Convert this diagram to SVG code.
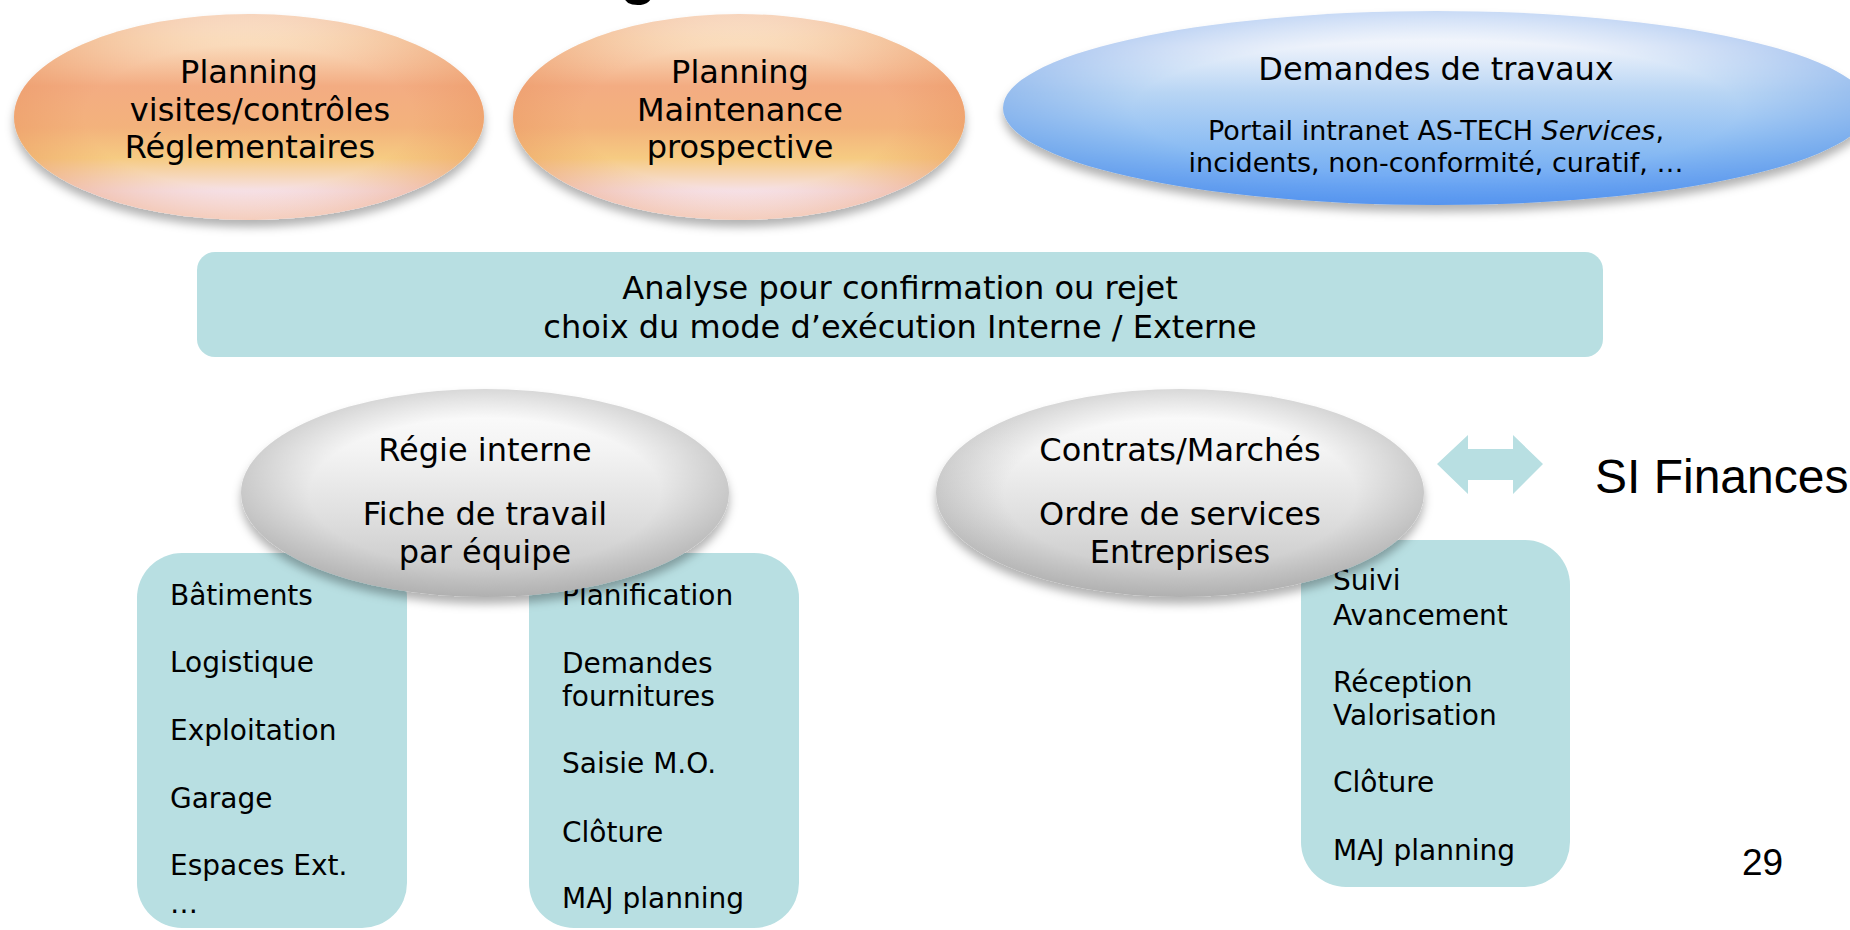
<svg xmlns="http://www.w3.org/2000/svg" width="1850" height="930" viewBox="0 0 1850 930">
<defs>
<style>
.t{font-family:"DejaVu Sans","Verdana",sans-serif;fill:#000}
.big{font-size:32px}
.mid{font-size:27px}
.item{font-size:28px}
.box{fill:#b8dfe2}
.ar{font-family:"Liberation Sans",Arial,sans-serif;fill:#000}
</style>
<linearGradient id="gOrange" x1="0" y1="0" x2="0" y2="1">
<stop offset="0" stop-color="#fffaf2"/>
<stop offset="0.12" stop-color="#fbe2c4"/>
<stop offset="0.35" stop-color="#f3ac82"/>
<stop offset="0.55" stop-color="#f3b27c"/>
<stop offset="0.70" stop-color="#f6cb82"/>
<stop offset="0.86" stop-color="#f6e1e8"/>
<stop offset="1" stop-color="#fbeff2"/>
</linearGradient>
<linearGradient id="gBlue" x1="0" y1="0" x2="0" y2="1">
<stop offset="0" stop-color="#ffffff"/>
<stop offset="0.18" stop-color="#edf2fb"/>
<stop offset="0.42" stop-color="#b8d5f4"/>
<stop offset="0.72" stop-color="#89bbf3"/>
<stop offset="1" stop-color="#5b9bf5"/>
</linearGradient>
<linearGradient id="gGrey" x1="0" y1="0" x2="0" y2="1">
<stop offset="0" stop-color="#ffffff"/>
<stop offset="0.3" stop-color="#f3f3f3"/>
<stop offset="0.6" stop-color="#e0e0e0"/>
<stop offset="0.85" stop-color="#cdcdcd"/>
<stop offset="1" stop-color="#c2c2c2"/>
</linearGradient>
<radialGradient id="gEdgeO" cx="0.5" cy="0.5" r="0.5">
<stop offset="0.7" stop-color="#e8905a" stop-opacity="0"/>
<stop offset="1" stop-color="#e8905a" stop-opacity="0.35"/>
</radialGradient>
<radialGradient id="gEdgeB" cx="0.5" cy="0.5" r="0.5">
<stop offset="0.7" stop-color="#4a86e0" stop-opacity="0"/>
<stop offset="1" stop-color="#4a86e0" stop-opacity="0.3"/>
</radialGradient>
<radialGradient id="gEdgeG" cx="0.5" cy="0.5" r="0.5">
<stop offset="0.72" stop-color="#909090" stop-opacity="0"/>
<stop offset="1" stop-color="#909090" stop-opacity="0.35"/>
</radialGradient>
<filter id="shadow" x="-10%" y="-15%" width="120%" height="140%">
<feDropShadow dx="0" dy="7" stdDeviation="5" flood-color="#000" flood-opacity="0.3"/>
</filter>
</defs>
<rect width="1850" height="930" fill="#ffffff"/>

<text class="ar" x="620" y="-7" font-size="60" font-weight="bold">g</text>

<g id="node-planning-visites">
<ellipse cx="249" cy="117" rx="235" ry="103" fill="url(#gOrange)" filter="url(#shadow)"/>
<ellipse cx="249" cy="117" rx="235" ry="103" fill="url(#gEdgeO)"/>
<text class="t big" text-anchor="middle"><tspan x="249" y="83">Planning</tspan><tspan x="260" y="121">visites/contrôles</tspan><tspan x="250" y="158">Réglementaires</tspan></text>
</g>

<g id="node-planning-maintenance">
<ellipse cx="739" cy="117" rx="226" ry="103" fill="url(#gOrange)" filter="url(#shadow)"/>
<ellipse cx="739" cy="117" rx="226" ry="103" fill="url(#gEdgeO)"/>
<text class="t big" text-anchor="middle"><tspan x="740" y="83">Planning</tspan><tspan x="740" y="121">Maintenance</tspan><tspan x="740" y="158">prospective</tspan></text>
</g>

<g id="node-demandes">
<ellipse cx="1436" cy="108" rx="433" ry="97" fill="url(#gBlue)" filter="url(#shadow)"/>
<ellipse cx="1436" cy="108" rx="433" ry="97" fill="url(#gEdgeB)"/>
<text class="t big" x="1436" y="80" text-anchor="middle">Demandes de travaux</text>
<text class="t mid" text-anchor="middle"><tspan x="1436" y="140">Portail intranet AS-TECH <tspan font-style="italic">Services</tspan>,</tspan><tspan x="1436" y="172">incidents, non-conformité, curatif, …</tspan></text>
</g>

<g id="node-analyse">
<rect class="box" x="197" y="252" width="1406" height="105" rx="18"/>
<text class="t big" text-anchor="middle"><tspan x="900" y="299">Analyse pour confirmation ou rejet</tspan><tspan x="900" y="338">choix du mode d’exécution Interne / Externe</tspan></text>
</g>

<g id="node-equipes">
<rect class="box" x="137" y="553" width="270" height="375" rx="45"/>
<text class="t item"><tspan x="170" y="605">Bâtiments</tspan><tspan x="170" y="672">Logistique</tspan><tspan x="170" y="740">Exploitation</tspan><tspan x="170" y="808">Garage</tspan><tspan x="170" y="875">Espaces Ext.</tspan><tspan x="170" y="913">…</tspan></text>
</g>

<g id="node-taches-internes">
<rect class="box" x="529" y="553" width="270" height="375" rx="45"/>
<text class="t item"><tspan x="562" y="605">Planification</tspan><tspan x="562" y="673">Demandes</tspan><tspan x="562" y="706">fournitures</tspan><tspan x="562" y="773">Saisie M.O.</tspan><tspan x="562" y="842">Clôture</tspan><tspan x="562" y="908">MAJ planning</tspan></text>
</g>

<g id="node-taches-externes">
<rect class="box" x="1301" y="540" width="269" height="347" rx="45"/>
<text class="t item"><tspan x="1333" y="590">Suivi</tspan><tspan x="1333" y="625">Avancement</tspan><tspan x="1333" y="692">Réception</tspan><tspan x="1333" y="725">Valorisation</tspan><tspan x="1333" y="792">Clôture</tspan><tspan x="1333" y="860">MAJ planning</tspan></text>
</g>

<g id="node-regie">
<ellipse cx="485" cy="493" rx="244" ry="104" fill="url(#gGrey)" filter="url(#shadow)"/>
<ellipse cx="485" cy="493" rx="244" ry="104" fill="url(#gEdgeG)"/>
<text class="t big" text-anchor="middle"><tspan x="485" y="461">Régie interne</tspan><tspan x="485" y="525">Fiche de travail</tspan><tspan x="485" y="563">par équipe</tspan></text>
</g>

<g id="node-contrats">
<ellipse cx="1180" cy="493" rx="244" ry="104" fill="url(#gGrey)" filter="url(#shadow)"/>
<ellipse cx="1180" cy="493" rx="244" ry="104" fill="url(#gEdgeG)"/>
<text class="t big" text-anchor="middle"><tspan x="1180" y="461">Contrats/Marchés</tspan><tspan x="1180" y="525">Ordre de services</tspan><tspan x="1180" y="563">Entreprises</tspan></text>
</g>

<g id="connectors">
<polygon class="box" points="1437,464 1468,435 1468,449 1513,449 1513,435 1543,464 1513,494 1513,480 1468,480 1468,494"/>
</g>

<g id="node-si-finances">
<text class="ar" x="1595" y="493" font-size="48">SI Finances</text>
</g>

<text class="ar" x="1742" y="875" font-size="37">29</text>
</svg>
